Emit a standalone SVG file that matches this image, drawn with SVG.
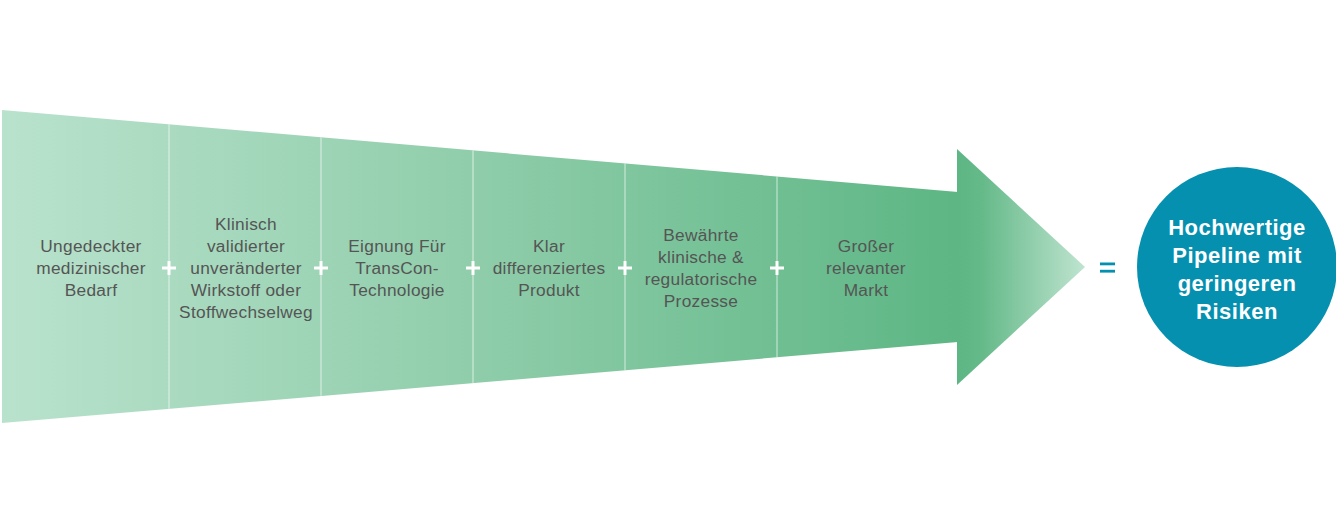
<svg xmlns="http://www.w3.org/2000/svg" width="1336" height="532" viewBox="0 0 1336 532">
<defs>
<linearGradient id="shaft" gradientUnits="userSpaceOnUse" x1="2" y1="0" x2="958" y2="0">
<stop offset="0" stop-color="#b9e2cd"/>
<stop offset="0.5" stop-color="#8fcdaa"/>
<stop offset="1" stop-color="#5db684"/>
</linearGradient>
<linearGradient id="head" gradientUnits="userSpaceOnUse" x1="958" y1="0" x2="1085" y2="0">
<stop offset="0" stop-color="#5db684"/>
<stop offset="0.2" stop-color="#66ba8a"/>
<stop offset="1" stop-color="#bfe4d0"/>
</linearGradient>
<style>
.lbl{font-family:"Liberation Sans",Arial,sans-serif;font-size:17.3px;fill:#555555;text-anchor:middle;letter-spacing:0.3px}
.res{font-family:"Liberation Sans",Arial,sans-serif;font-size:22px;font-weight:bold;fill:#ffffff;text-anchor:middle;letter-spacing:0.5px}
.div{stroke:#ffffff;stroke-opacity:0.45;stroke-width:1.5}
.plus{stroke:#ffffff;stroke-width:3}
</style>
</defs>
<g id="arrow">
<polygon points="2,110 958,192 958,342 2,423" fill="url(#shaft)"/>
<polygon points="957,149 1085,267 957,385" fill="url(#head)"/>
</g>
<g id="connectors">
<line class="div" x1="169" y1="124.3" x2="169" y2="408.7"/>
<line class="div" x1="321" y1="137.4" x2="321" y2="395.8"/>
<line class="div" x1="473" y1="150.4" x2="473" y2="383"/>
<line class="div" x1="625" y1="163.5" x2="625" y2="370.2"/>
<line class="div" x1="777" y1="176.5" x2="777" y2="357.3"/>
<g id="plus1" class="plus"><line x1="162" y1="268" x2="176" y2="268"/><line x1="169" y1="261" x2="169" y2="275"/></g>
<g id="plus2" class="plus"><line x1="314" y1="268" x2="328" y2="268"/><line x1="321" y1="261" x2="321" y2="275"/></g>
<g id="plus3" class="plus"><line x1="466" y1="268" x2="480" y2="268"/><line x1="473" y1="261" x2="473" y2="275"/></g>
<g id="plus4" class="plus"><line x1="618" y1="268" x2="632" y2="268"/><line x1="625" y1="261" x2="625" y2="275"/></g>
<g id="plus5" class="plus"><line x1="770" y1="268" x2="784" y2="268"/><line x1="777" y1="261" x2="777" y2="275"/></g>
<g id="equals" fill="#0590b0"><rect x="1100" y="262.5" width="15" height="2.8"/><rect x="1100" y="269.8" width="15" height="2.8"/></g>
</g>
<g id="node1"><text class="lbl" x="91"><tspan x="91" y="252">Ungedeckter</tspan><tspan x="91" y="274">medizinischer</tspan><tspan x="91" y="296">Bedarf</tspan></text></g>
<g id="node2"><text class="lbl" x="246"><tspan x="246" y="230">Klinisch</tspan><tspan x="246" y="252">validierter</tspan><tspan x="246" y="274">unveränderter</tspan><tspan x="246" y="296">Wirkstoff oder</tspan><tspan x="246" y="318">Stoffwechselweg</tspan></text></g>
<g id="node3"><text class="lbl" x="397"><tspan x="397" y="252">Eignung Für</tspan><tspan x="397" y="274">TransCon-</tspan><tspan x="397" y="296">Technologie</tspan></text></g>
<g id="node4"><text class="lbl" x="549"><tspan x="549" y="252">Klar</tspan><tspan x="549" y="274">differenziertes</tspan><tspan x="549" y="296">Produkt</tspan></text></g>
<g id="node5"><text class="lbl" x="701"><tspan x="701" y="241">Bewährte</tspan><tspan x="701" y="263">klinische &amp;</tspan><tspan x="701" y="285">regulatorische</tspan><tspan x="701" y="307">Prozesse</tspan></text></g>
<g id="node6"><text class="lbl" x="866"><tspan x="866" y="252">Großer</tspan><tspan x="866" y="274">relevanter</tspan><tspan x="866" y="296">Markt</tspan></text></g>
<g id="result">
<circle cx="1237" cy="267" r="100" fill="#0590b0"/>
<text class="res" x="1237"><tspan x="1237" y="235">Hochwertige</tspan><tspan x="1237" y="263">Pipeline mit</tspan><tspan x="1237" y="291">geringeren</tspan><tspan x="1237" y="319">Risiken</tspan></text>
</g>
</svg>
